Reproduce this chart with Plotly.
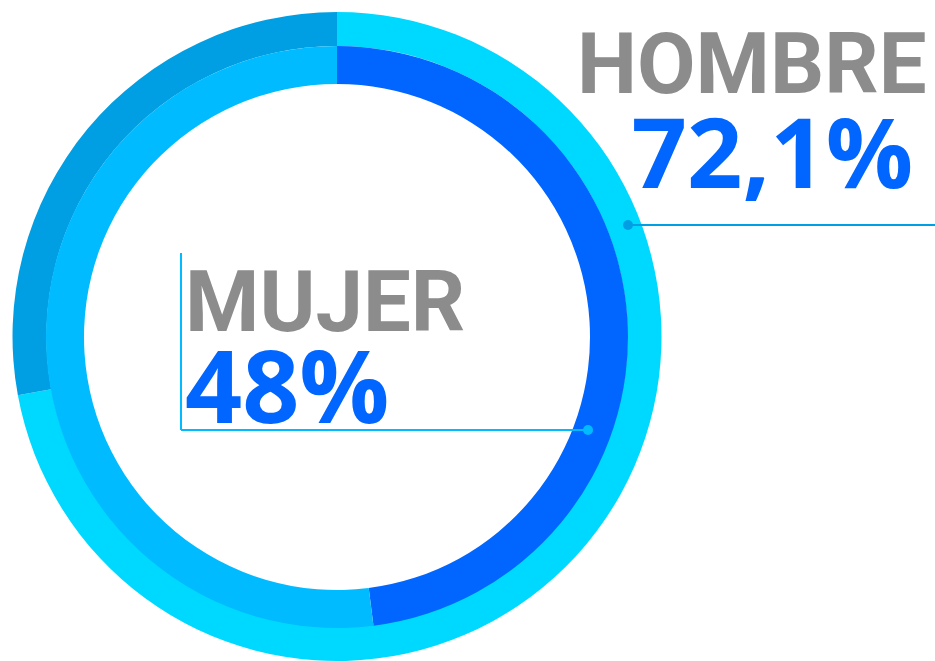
import plotly.graph_objects as go

W, H = 935, 661

# Data
outer_labels = ["Hombre", "Resto"]
outer_values = [72.1, 27.9]
outer_colors = ["#00D9FF", "#009FE3"]

inner_labels = ["Mujer", "Resto"]
inner_values = [48, 52]
inner_colors = ["#0066FF", "#00BBFF"]

label_names = ["HOMBRE", "MUJER"]
label_values = ["72,1%", "48%"]

# geometry (pixels)
cx, cy = 337, 337
R_out, R_mid, R_in = 325, 291, 253


def dom(r):
    x0 = (cx - r) / W
    x1 = (cx + r) / W
    yb = H - cy
    y0 = max(0.0, (yb - r) / H)
    y1 = min(1.0, (yb + r) / H)
    return dict(x=[x0, x1], y=[y0, y1])


fig = go.Figure()
fig.add_trace(go.Pie(
    labels=outer_labels, values=outer_values, sort=False, direction="clockwise",
    rotation=0, hole=R_mid / R_out, domain=dom(R_out), textinfo="none",
    marker=dict(colors=outer_colors, line=dict(width=0)), showlegend=False,
    hoverinfo="label+percent",
))
fig.add_trace(go.Pie(
    labels=inner_labels, values=inner_values, sort=False, direction="clockwise",
    rotation=0, hole=R_in / R_mid, domain=dom(R_mid), textinfo="none",
    marker=dict(colors=inner_colors, line=dict(width=0)), showlegend=False,
    hoverinfo="label+percent",
))

gray = "#8C8C8C"
blue = "#0066FF"


def two_line(name, value, name_size, value_size, trail=""):
    return (
        f'<span style="font-family:Roboto, DejaVu Sans Condensed, sans-serif;'
        f'font-size:{name_size}px;font-weight:bold;fill:{gray}">{name}</span><br>'
        f'<span style="font-family:Open Sans, Noto Sans, sans-serif;'
        f'font-size:{value_size}px;font-weight:bold;fill:{blue}">{value}</span>'
        + trail
    )


shapes = [
    dict(type="line", x0=628, y0=225, x1=935, y1=225, line=dict(color="#009FE3", width=2)),
    dict(type="circle", x0=623, y0=220, x1=633, y1=230, fillcolor="#009FE3", line=dict(width=0)),
    dict(type="line", x0=181, y0=253, x1=181, y1=430, line=dict(color="#00BBFF", width=2)),
    dict(type="line", x0=181, y0=430, x1=588, y1=430, line=dict(color="#00BBFF", width=2)),
    dict(type="circle", x0=583, y0=425, x1=593, y1=435, fillcolor="#00BBFF", line=dict(width=0)),
]
for s in shapes:
    s.update(xref="x", yref="y", layer="above")

annotations = [
    dict(text=two_line(label_names[0], label_values[0], 85, 97,
                       trail='<span style="font-size:52px">\u00a0</span>'),
         x=929, y=12, xanchor="right", yanchor="top", align="right",
         font=dict(family="Open Sans", size=73, color=blue)),
    dict(text=two_line(label_names[1], label_values[1], 85, 100),
         x=183, y=250, xanchor="left", yanchor="top", align="left",
         font=dict(family="Open Sans", size=71, color=blue)),
]
for a in annotations:
    a.update(xref="x", yref="y", showarrow=False)

fig.update_layout(
    width=W, height=H, margin=dict(l=0, r=0, t=0, b=0),
    paper_bgcolor="white", plot_bgcolor="rgba(0,0,0,0)",
    xaxis=dict(range=[0, W], visible=False, fixedrange=True),
    yaxis=dict(range=[H, 0], visible=False, fixedrange=True),
    shapes=shapes, annotations=annotations,
)
fig.write_html(
    "out.html",
    config={"displayModeBar": False},
    post_script="document.body.style.margin='0';document.body.style.overflow='hidden';",
)
